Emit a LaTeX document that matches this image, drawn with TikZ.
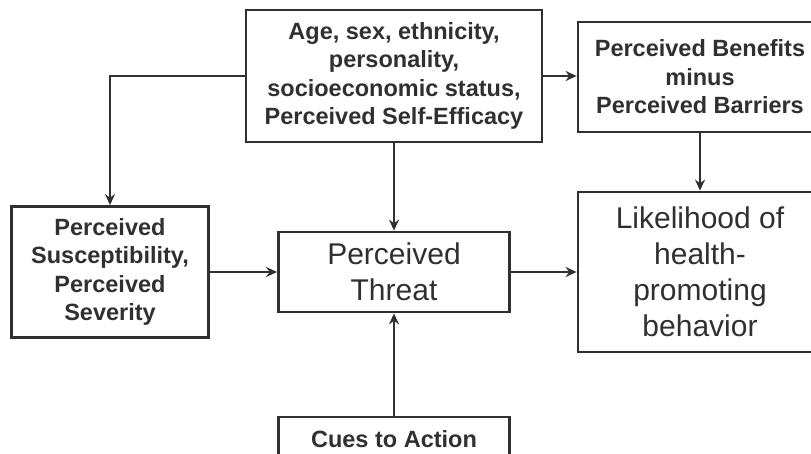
\documentclass[tikz,border=0pt]{standalone}
\usepackage{fontspec}
\setmainfont{Liberation Sans}
\usetikzlibrary{arrows.meta}

\definecolor{ink}{HTML}{303030}

\begin{document}
\begin{tikzpicture} [
                x=1pt, y=-1pt,
                % boxes carry the factors of the model
                box/.style = {draw=ink, line width=2.8pt, align=center, text=ink,
                              inner sep=2pt, font=\bfseries\fontsize{23.5}{28.5}\selectfont},
                big box/.style = {box, font=\fontsize{30}{36}\selectfont},
                link/.style = {draw=ink, line width=2.8pt, -{Stealth[length=11pt,width=10pt]}}
            ]
            \useasboundingbox (0,0) rectangle (811,454);
            % First we draw the boxes
            \node[box, minimum width=296pt, minimum height=132pt] (modify) at (394,76)
                {Age, sex, ethnicity,\\personality,\\socioeconomic status,\\Perceived Self-Efficacy};
            \node[box, minimum width=244pt, minimum height=110pt] (benefit) at (700,77)
                {Perceived Benefits\\minus\\Perceived Barriers};
            \node[box, minimum width=197pt, minimum height=131pt] (suscept) at (110,272)
                {Perceived\\Susceptibility,\\Perceived\\Severity};
            \node[big box, minimum width=231pt, minimum height=80pt] (threat) at (394,272)
                {Perceived\\Threat};
            \node[big box, minimum width=244pt, minimum height=160pt] (likely) at (700,272)
                {Likelihood of\\health-\\promoting\\behavior};
            \node[box, minimum width=231pt, minimum height=44pt] (cues) at (394,439)
                {Cues to Action};
            % Then connect them
            \path[link] (modify.west) -| (suscept.north);
            \path[link] (modify.east) -- (benefit.west |- modify.east);
            \path[link] (modify.south) -- (threat.north);
            \path[link] (benefit.south) -- (likely.north);
            \path[link] (suscept.east) -- (threat.west);
            \path[link] (threat.east) -- (likely.west);
            \path[link] (cues.north) -- (threat.south);
        \end{tikzpicture}
\end{document}
